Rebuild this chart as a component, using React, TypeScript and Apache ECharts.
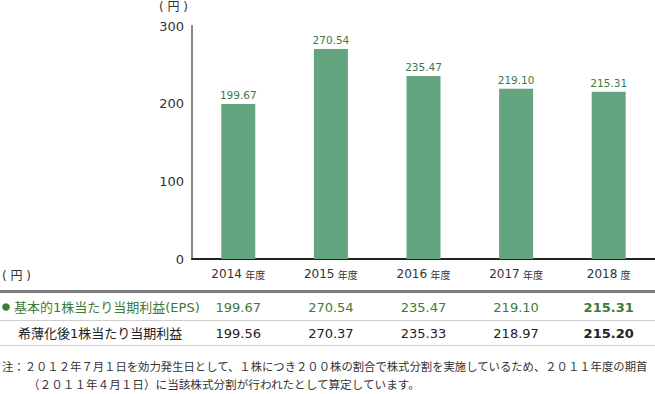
import React, { useEffect, useRef } from "react";
import * as echarts from "echarts";

const years = ["2014", "2015", "2016", "2017", "2018"];
const yearSuffixes = ["年度", "年度", "年度", "年度", "度"];
const epsValues = [199.67, 270.54, 235.47, 219.1, 215.31];
const dilutedValues = [199.56, 270.37, 235.33, 218.97, 215.2];
const yMin = 0;
const yMax = 300;
const yInterval = 100;
const unitLabel = "( 円 )";
const rowLabels = ["基本的1株当たり当期利益(EPS)", "希薄化後1株当たり当期利益"];
const noteLines = [
  "注：２０１２年７月１日を効力発生日として、１株につき２００株の割合で株式分割を実施しているため、２０１１年度の期首",
  "（２０１１年４月１日）に当該株式分割が行われたとして算定しています。",
];

const NUM_FONT = "'DejaVu Sans', 'Noto Sans CJK JP', sans-serif";
const CJK_FONT = "'Noto Sans CJK JP', sans-serif";
const BAR_COLOR = "#64a57f";
const LABEL_GREEN = "#3f7a46";
const TABLE_GREEN = "#3d7b3d";
const DARK = "#222";

export default function App() {
  const ref = useRef<HTMLDivElement>(null);

  useEffect(() => {
    if (!ref.current) return;
    const chart = echarts.init(ref.current, undefined, { renderer: "svg" });
    const categories = years.map((y, i) => `${y} ${yearSuffixes[i]}`);

    chart.setOption({
      animation: false,
      grid: { left: 192, right: 0, top: 26, bottom: 135, containLabel: false },
      xAxis: {
        type: "category",
        data: categories,
        axisLine: { show: true, lineStyle: { color: "#222", width: 2 } },
        axisTick: { show: false },
        axisLabel: {
          interval: 0,
          margin: 9,
          formatter: (v: string) => {
            const [y, s] = v.split(" ");
            return `{y|${y}} {s|${s}}`;
          },
          rich: {
            y: { fontSize: 12, fontFamily: NUM_FONT, color: "#333" },
            s: { fontSize: 10, fontFamily: CJK_FONT, color: "#333" },
          },
        },
      },
      yAxis: {
        type: "value",
        min: yMin,
        max: yMax,
        interval: yInterval,
        axisLine: { show: true, lineStyle: { color: "#888", width: 2 } },
        axisTick: { show: false },
        splitLine: { show: false },
        axisLabel: { fontSize: 13, fontFamily: NUM_FONT, color: "#333", margin: 8 },
      },
      series: [
        {
          type: "bar",
          data: epsValues,
          barWidth: 34,
          itemStyle: { color: BAR_COLOR },
          label: {
            show: true,
            position: "top",
            distance: 4,
            fontSize: 10.5,
            fontFamily: NUM_FONT,
            color: LABEL_GREEN,
            formatter: (p: any) => Number(p.value).toFixed(2),
          },
        },
      ],
    });

    const xs = categories.map((c) => chart.convertToPixel({ xAxisIndex: 0 }, c) as number);
    const row1Y = 307;
    const row2Y = 333;

    const graphics: any[] = [
      {
        type: "text",
        x: 159,
        y: 7,
        style: { text: unitLabel, font: `12px ${NUM_FONT}`, fill: "#333", verticalAlign: "middle" },
      },
      {
        type: "text",
        x: 2,
        y: 276,
        style: { text: unitLabel, font: `12px ${NUM_FONT}`, fill: "#333", verticalAlign: "middle" },
      },
      { type: "rect", shape: { x: 0, y: 290, width: 655, height: 3 }, style: { fill: "#7b7b7b" } },
      { type: "rect", shape: { x: 0, y: 320, width: 655, height: 1 }, style: { fill: "#cfcfcf" } },
      { type: "rect", shape: { x: 0, y: 345, width: 655, height: 1 }, style: { fill: "#cfcfcf" } },
      { type: "circle", shape: { cx: 6, cy: row1Y, r: 3.8 }, style: { fill: TABLE_GREEN } },
      {
        type: "text",
        x: 14,
        y: row1Y,
        style: { text: rowLabels[0], font: `13px ${NUM_FONT}`, fill: TABLE_GREEN, verticalAlign: "middle" },
      },
      {
        type: "text",
        x: 18,
        y: row2Y,
        style: { text: rowLabels[1], font: `13px ${NUM_FONT}`, fill: DARK, verticalAlign: "middle" },
      },
    ];

    xs.forEach((x, i) => {
      const bold = i === xs.length - 1 ? "bold " : "";
      graphics.push({
        type: "text",
        x,
        y: row1Y,
        style: {
          text: epsValues[i].toFixed(2),
          font: `${bold}13px ${NUM_FONT}`,
          fill: TABLE_GREEN,
          align: "center",
          verticalAlign: "middle",
        },
      });
      graphics.push({
        type: "text",
        x,
        y: row2Y,
        style: {
          text: dilutedValues[i].toFixed(2),
          font: `${bold}13px ${NUM_FONT}`,
          fill: DARK,
          align: "center",
          verticalAlign: "middle",
        },
      });
    });

    graphics.push({
      type: "text",
      x: 2,
      y: 366,
      style: { text: noteLines[0], font: `11.35px ${CJK_FONT}`, fill: "#333", verticalAlign: "middle" },
    });
    graphics.push({
      type: "text",
      x: 28,
      y: 384,
      style: { text: noteLines[1], font: `11.6px ${CJK_FONT}`, fill: "#333", verticalAlign: "middle" },
    });

    chart.setOption({ graphic: graphics });

    return () => chart.dispose();
  }, []);

  return (
    <div
      ref={ref}
      style={{ position: "fixed", left: 0, top: 0, width: 655, height: 394, background: "#fff" }}
    />
  );
}
